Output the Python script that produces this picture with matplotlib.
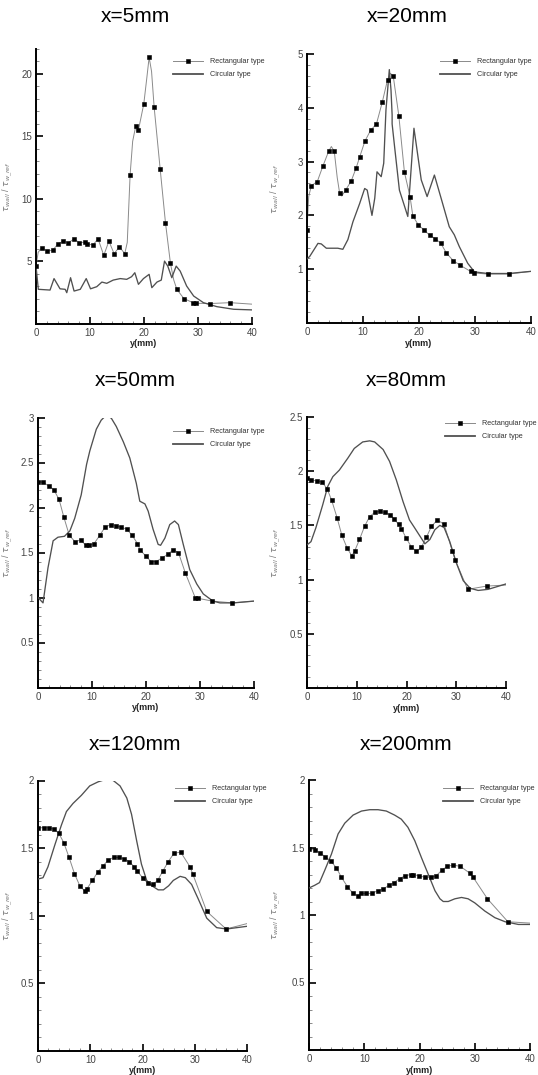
import matplotlib
matplotlib.use("Agg")
import matplotlib.pyplot as plt
from matplotlib.ticker import MultipleLocator, FuncFormatter

plt.rcParams['font.family'] = ['Liberation Sans', 'DejaVu Sans']

# ---------------------------------------------------------------- data
titles = ["x=5mm", "x=20mm", "x=50mm", "x=80mm", "x=120mm", "x=200mm"]
series_names = ["Rectangular type", "Circular type"]

# x = 5 mm
r1_y = [0.0, 1.05, 2.1, 3.1, 4.08, 5.07, 6.0, 7.05, 8.03, 9.0, 9.5, 10.5, 11.5, 12.55, 13.5,
        14.46, 15.45, 16.44, 17.43, 18.48, 18.97, 19.96, 20.95, 21.88, 22.99, 23.98, 24.9,
        26.08, 27.38, 29.05, 29.67, 32.26, 35.97]
r1_v = [4.6, 6.07, 5.8, 5.88, 6.38, 6.6, 6.47, 6.78, 6.47, 6.52, 6.4, 6.28, 6.78, 5.46, 6.6,
        5.6, 6.14, 5.6, 11.93, 15.85, 15.5, 17.6, 21.33, 17.33, 12.4, 8.06, 4.81,
        2.74, 2.0, 1.67, 1.62, 1.6, 1.67]
r1_line_y = [0.0, 0.4, 1.05, 2.1, 3.1, 4.08, 5.07, 6.0, 7.05, 8.03, 9.0, 9.5, 10.5, 11.5, 12.55,
             13.5, 14.46, 15.45, 16.44, 16.9, 17.43, 17.9, 18.48, 18.97, 19.96, 20.5, 20.95,
             21.4, 21.88, 22.99, 23.98, 24.9, 25.5, 26.08, 27.38, 29.05, 29.67, 32.26, 35.97, 40.0]
r1_line_v = [4.6, 5.7, 6.07, 5.8, 5.88, 6.38, 6.6, 6.47, 6.78, 6.47, 6.52, 6.4, 6.28, 6.78, 5.46,
             6.6, 5.6, 6.14, 5.6, 6.5, 11.93, 14.6, 15.85, 15.5, 17.6, 19.6, 21.33,
             20.2, 17.33, 12.4, 8.06, 4.81, 3.5, 2.74, 2.0, 1.67, 1.62, 1.6, 1.67, 1.55]
c1_y = [0.0, 0.43, 2.6, 3.34, 4.45, 5.4, 5.7, 6.4, 7.05, 8.2, 9.3, 10.1, 11.25, 12.2, 13.1, 14.3,
        15.6, 16.8, 17.7, 18.3, 18.97, 19.9, 20.95, 21.45, 22.4, 23.2, 23.8, 24.4, 25.15, 25.96,
        26.7, 27.9, 29.2, 31.0, 33.5, 36.6, 40.0]
c1_v = [4.6, 2.74, 2.68, 3.6, 2.78, 2.74, 2.47, 3.67, 2.6, 2.74, 3.6, 2.78, 2.95, 3.32, 3.22, 3.48,
        3.6, 3.54, 3.75, 4.07, 3.14, 3.6, 3.94, 2.87, 3.32, 3.48, 5.0, 4.6, 3.67, 4.6,
        4.2, 3.0, 2.2, 1.67, 1.35, 1.14, 1.09]

# x = 20 mm
r2_y = [0.0, 0.77, 1.84, 2.85, 3.86, 4.87, 5.82, 6.9, 7.9, 8.8, 9.39, 10.34, 11.35, 12.4, 13.43,
        14.38, 15.4, 16.4, 17.4, 18.4, 18.9, 19.9, 20.9, 21.9, 22.9, 23.9, 24.9, 26.1, 27.4,
        29.2, 29.8, 32.3, 36.0]
r2_v = [1.73, 2.55, 2.63, 2.92, 3.19, 3.19, 2.42, 2.47, 2.64, 2.89, 3.08, 3.38, 3.58, 3.7, 4.1,
        4.52, 4.59, 3.85, 2.8, 2.35, 1.99, 1.82, 1.73, 1.63, 1.57, 1.48, 1.3, 1.16, 1.07,
        0.96, 0.93, 0.91, 0.91]
r2_line_y = [0.0, 0.3, 0.77, 1.84, 2.85, 3.86, 4.35, 4.87, 5.4, 5.82, 6.2, 6.9, 7.9, 8.8, 9.39,
             10.34, 11.35, 12.4, 13.43, 14.38, 14.9, 15.4, 16.4, 17.4, 18.4, 18.9, 19.9, 20.9,
             21.9, 22.9, 23.9, 24.9, 26.1, 27.4, 29.2, 29.8, 32.3, 36.0, 40.0]
r2_line_v = [1.73, 2.35, 2.55, 2.63, 2.92, 3.19, 3.28, 3.19, 2.7, 2.42, 2.36, 2.47, 2.64, 2.89, 3.08,
             3.38, 3.58, 3.7, 4.1, 4.52, 4.64, 4.59, 3.85, 2.8, 2.35, 1.99, 1.82, 1.73,
             1.63, 1.57, 1.48, 1.3, 1.16, 1.07, 0.96, 0.93, 0.91, 0.91, 0.96]
c2_y = [0.0, 0.5, 1.96, 2.55, 3.45, 5.5, 6.4, 7.3, 8.2, 9.4, 10.3, 10.75, 11.6, 12.1, 12.5, 13.25,
        13.7, 14.1, 14.7, 15.0, 15.2, 15.2, 15.7, 16.5, 18.0, 19.1, 20.4, 21.45, 22.75, 24.0,
        25.4, 26.3, 27.2, 28.7, 29.9, 32.3, 36.0, 40.0]
c2_v = [1.19, 1.24, 1.48, 1.47, 1.39, 1.39, 1.37, 1.55, 1.88, 2.22, 2.5, 2.47, 2.0, 2.32, 2.81, 2.72,
        2.97, 3.96, 4.71, 4.33, 3.87, 3.70, 3.22, 2.47, 1.98, 3.62, 2.66, 2.35, 2.75, 2.3,
        1.79, 1.64, 1.42, 1.11, 0.95, 0.92, 0.92, 0.96]

# x = 50 mm
r3_y = [0.0, 0.93, 1.98, 2.9, 3.9, 4.8, 5.8, 6.86, 7.9, 8.84, 9.4, 10.4, 11.43, 12.4, 13.47, 14.46,
        15.4, 16.44, 17.43, 18.42, 18.9, 19.96, 20.95, 21.9, 22.99, 24.04, 25.03, 26.0, 27.3,
        29.1, 29.7, 32.3, 36.0]
r3_v = [2.28, 2.28, 2.24, 2.2, 2.09, 1.89, 1.69, 1.62, 1.64, 1.58, 1.58, 1.6, 1.69, 1.78, 1.81, 1.8,
        1.78, 1.76, 1.69, 1.6, 1.53, 1.46, 1.4, 1.4, 1.44, 1.48, 1.53, 1.5, 1.27,
        1.0, 0.99, 0.96, 0.94]
r3_line_y = r3_y + [40.0]
r3_line_v = r3_v + [0.96]
c3_y = [0.0, 0.93, 1.85, 2.8, 3.7, 4.9, 5.9, 6.8, 8.0, 9.0, 9.6, 10.8, 11.7, 12.7, 13.6, 14.5, 15.8,
        17.0, 18.2, 18.85, 19.8, 20.4, 21.3, 22.25, 22.7, 23.5, 24.4, 25.3, 26.0, 26.9, 28.1,
        29.4, 30.6, 32.4, 33.7, 36.2, 40.0]
c3_v = [1.0, 0.94, 1.33, 1.63, 1.67, 1.68, 1.74, 1.88, 2.14, 2.48, 2.63, 2.87, 2.97, 3.03, 2.99, 2.9,
        2.73, 2.55, 2.27, 2.07, 2.04, 1.96, 1.76, 1.59, 1.58, 1.66, 1.81, 1.85, 1.81, 1.59, 1.31,
        1.15, 1.04, 0.96, 0.94, 0.94, 0.96]

# x = 80 mm
r4_y = [0.0, 0.87, 1.95, 3.0, 4.03, 4.97, 6.05, 7.0, 8.07, 9.0, 9.55, 10.55, 11.56, 12.57, 13.6,
        14.6, 15.6, 16.6, 17.5, 18.4, 18.96, 19.97, 21.0, 22.0, 23.0, 24.0, 25.0, 26.2, 27.56,
        29.24, 29.8, 32.3, 36.1]
r4_v = [1.94, 1.92, 1.91, 1.9, 1.84, 1.73, 1.57, 1.41, 1.29, 1.22, 1.26, 1.37, 1.49, 1.58, 1.62,
        1.63, 1.62, 1.6, 1.56, 1.51, 1.47, 1.38, 1.3, 1.26, 1.3, 1.39, 1.49, 1.55, 1.51,
        1.26, 1.18, 0.91, 0.94]
r4_line_y = r4_y + [40.0]
r4_line_v = r4_v + [0.95]
c4_y = [0.0, 0.8, 1.8, 3.16, 4.17, 5.2, 6.5, 8.2, 9.5, 11.2, 12.6, 13.6, 15.3, 16.6, 17.95, 19.3,
        20.6, 21.6, 23.0, 23.7, 24.7, 25.7, 26.7, 27.56, 28.7, 30.05, 31.4, 32.8, 34.4, 36.4, 40.0]
c4_v = [1.32, 1.35, 1.48, 1.69, 1.86, 1.95, 2.01, 2.12, 2.21, 2.27, 2.28, 2.27, 2.2, 2.09, 1.92, 1.72,
        1.55, 1.48, 1.38, 1.33, 1.37, 1.46, 1.5, 1.48, 1.35, 1.15, 0.99, 0.92, 0.9, 0.91, 0.96]

# x = 120 mm
r5_y = [0.0, 1.09, 2.05, 3.0, 3.97, 4.93, 5.95, 6.98, 8.0, 8.96, 9.4, 10.43, 11.4, 12.48, 13.44,
        14.46, 15.5, 16.5, 17.47, 18.43, 19.0, 20.0, 21.0, 21.95, 22.9, 23.9, 24.96, 26.0, 27.3,
        29.1, 29.6, 32.3, 36.0]
r5_v = [1.65, 1.65, 1.65, 1.64, 1.61, 1.54, 1.43, 1.31, 1.22, 1.18, 1.2, 1.26, 1.32, 1.37, 1.41,
        1.43, 1.43, 1.42, 1.4, 1.36, 1.33, 1.28, 1.24, 1.23, 1.26, 1.33, 1.4, 1.46, 1.47,
        1.36, 1.31, 1.03, 0.9]
r5_line_y = r5_y + [40.0]
r5_line_v = r5_v + [0.94]
c5_y = [0.0, 0.96, 1.9, 3.2, 4.48, 5.44, 6.7, 8.3, 9.9, 11.5, 13.1, 14.4, 15.7, 17.0, 17.9, 18.9,
        19.8, 20.8, 21.8, 23.0, 24.0, 25.0, 25.9, 27.2, 28.2, 29.4, 30.7, 32.3, 34.2, 36.1, 40.0]
c5_v = [1.27, 1.28, 1.36, 1.52, 1.67, 1.77, 1.83, 1.89, 1.96, 1.99, 2.01, 2.0, 1.96, 1.87, 1.75, 1.55,
        1.38, 1.26, 1.22, 1.19, 1.19, 1.22, 1.26, 1.29, 1.28, 1.23, 1.12, 0.98, 0.91, 0.9, 0.92]

# x = 200 mm
r6_y = [0.0, 1.03, 2.05, 2.96, 3.93, 4.95, 5.86, 6.95, 7.98, 8.88, 9.36, 10.4, 11.4, 12.4, 13.4,
        14.44, 15.4, 16.4, 17.4, 18.4, 18.9, 19.9, 20.97, 22.0, 23.0, 24.0, 25.0, 26.1, 27.4,
        29.1, 29.7, 32.3, 36.0]
r6_v = [1.49, 1.48, 1.46, 1.43, 1.4, 1.35, 1.28, 1.21, 1.16, 1.14, 1.16, 1.16, 1.16, 1.18, 1.19,
        1.22, 1.24, 1.27, 1.29, 1.3, 1.3, 1.29, 1.28, 1.28, 1.29, 1.33, 1.36, 1.37, 1.36,
        1.31, 1.28, 1.12, 0.95]
r6_line_y = r6_y + [40.0]
r6_line_v = r6_v + [0.94]
c6_y = [0.0, 1.03, 1.9, 2.84, 4.05, 5.26, 6.47, 7.98, 9.5, 11.0, 12.5, 14.0, 15.5, 16.7, 17.9, 19.15,
        20.4, 21.6, 22.8, 23.7, 24.3, 25.2, 26.4, 27.6, 28.8, 30.0, 31.8, 33.65, 35.5, 37.9, 40.0]
c6_v = [1.2, 1.22, 1.24, 1.33, 1.45, 1.6, 1.68, 1.74, 1.77, 1.78, 1.78, 1.77, 1.74, 1.71, 1.65, 1.55,
        1.42, 1.3, 1.18, 1.12, 1.1, 1.1, 1.12, 1.13, 1.12, 1.09, 1.03, 0.98, 0.95, 0.93, 0.93]

panels = [
    dict(mk=(r1_y, r1_v), rl=(r1_line_y, r1_line_v), cl=(c1_y, c1_v), ymax=22.0, major=5, minor=1),
    dict(mk=(r2_y, r2_v), rl=(r2_line_y, r2_line_v), cl=(c2_y, c2_v), ymax=5.0, major=1, minor=0.2),
    dict(mk=(r3_y, r3_v), rl=(r3_line_y, r3_line_v), cl=(c3_y, c3_v), ymax=3.0, major=0.5, minor=0.1),
    dict(mk=(r4_y, r4_v), rl=(r4_line_y, r4_line_v), cl=(c4_y, c4_v), ymax=2.5, major=0.5, minor=0.1),
    dict(mk=(r5_y, r5_v), rl=(r5_line_y, r5_line_v), cl=(c5_y, c5_v), ymax=2.0, major=0.5, minor=0.1),
    dict(mk=(r6_y, r6_v), rl=(r6_line_y, r6_line_v), cl=(c6_y, c6_v), ymax=2.0, major=0.5, minor=0.1),
]

# ---------------------------------------------------------------- layout (pixels)
W, H = 538, 1075
# left, right, top (at ymax), bottom (at 0)
boxes = [(36, 252, 49, 323.5), (307, 531, 54, 323), (38, 254, 417.5, 687.5),
         (307, 506, 417, 688), (38, 247, 780.5, 1050.5), (309, 530, 780, 1050)]
title_pos = [(135, 17), (407, 17), (135, 381), (406, 381), (135, 745), (406, 745)]
ylabel_x = [15, 283, 15, 283, 15, 283]
legend_pos = [(173, 58), (440, 58), (173, 428), (445, 420), (175, 785), (443, 785)]

fig = plt.figure(figsize=(W / 100, H / 100), dpi=100)

rect_col = '#8a8a8a'
circ_col = '#505050'
tick_col = '#444444'

fmt = FuncFormatter(lambda v, p: f"{v:g}")

for i, p in enumerate(panels):
    l, r, t, b = boxes[i]
    ax = fig.add_axes([l / W, 1 - b / H, (r - l) / W, (b - t) / H])

    ax.plot(*p['rl'], color=rect_col, lw=0.7, zorder=2)
    ax.plot(*p['cl'], color=circ_col, lw=0.95, zorder=3)
    ax.plot(*p['mk'], ls='none', marker='s', ms=2.2, mew=0.4, color='black', zorder=4)

    # legend handles
    h_rect, = ax.plot([], [], color=rect_col, lw=0.7, marker='s', ms=2.2, mew=0.4,
                      mfc='black', mec='black', markevery=[1])
    h_circ, = ax.plot([], [], color=circ_col, lw=1.3)
    lx, ly = legend_pos[i]
    ax.legend([h_rect, h_circ], series_names, loc='upper left',
              bbox_to_anchor=(lx / W, 1 - ly / H), bbox_transform=fig.transFigure,
              frameon=False, fontsize=5.2, handlelength=4.2, handletextpad=0.9,
              borderpad=0, borderaxespad=0, labelspacing=0.85, labelcolor='#333333')

    ax.set_xlim(0, 40)
    ax.set_ylim(0, p['ymax'])
    ax.xaxis.set_major_locator(MultipleLocator(10))
    ax.xaxis.set_minor_locator(MultipleLocator(2))
    yt = []
    k = 1
    while k * p['major'] <= p['ymax'] + 1e-9:
        yt.append(k * p['major'])
        k += 1
    ax.set_yticks(yt)
    ax.yaxis.set_minor_locator(MultipleLocator(p['minor']))
    ax.yaxis.set_major_formatter(fmt)

    for s in ('top', 'right'):
        ax.spines[s].set_visible(False)
    for s in ('left', 'bottom'):
        ax.spines[s].set_linewidth(1.4)
    ax.tick_params(which='major', direction='in', length=5, width=1.2,
                   labelsize=7, labelcolor=tick_col, pad=3)
    ax.tick_params(which='minor', direction='in', length=2.5, width=0.6, color='#777777')

    ax.set_xlabel('y(mm)', fontsize=6.5, fontweight='bold', color='#222222', labelpad=1)
    ax.set_ylabel(r'$\tau_{wall}$ / $\tau_{w\_ref}$', fontsize=6.5, color='#777777')
    ax.yaxis.set_label_coords((ylabel_x[i] - l) / (r - l), 0.5)

    tx, ty = title_pos[i]
    fig.text(tx / W, 1 - ty / H, titles[i], ha='center', va='center',
             fontsize=15, color='black')

fig.savefig('out.png', dpi=100)
